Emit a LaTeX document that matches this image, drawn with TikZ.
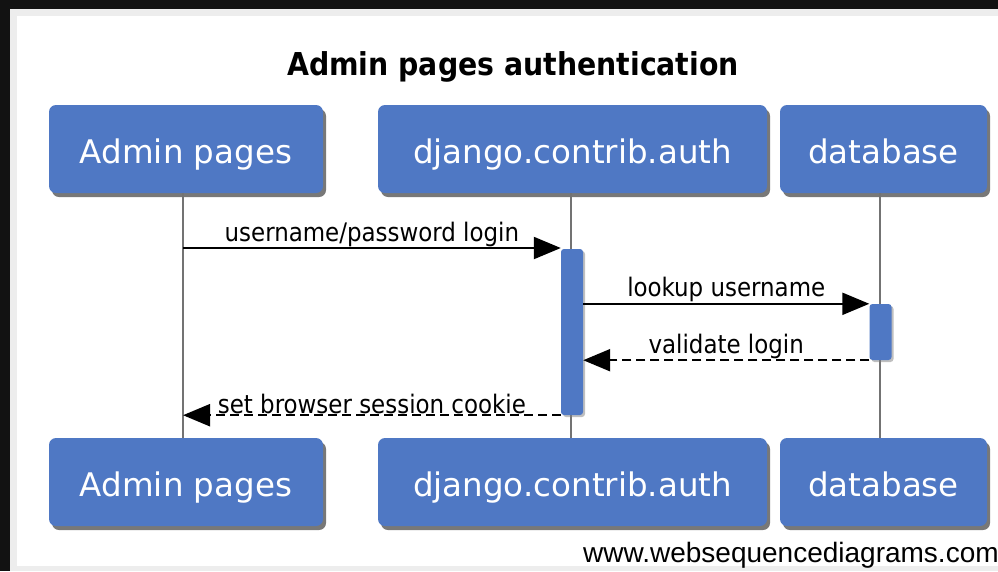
\documentclass[tikz,border=0pt]{standalone}
\usepackage{fontspec}
\setmainfont{DejaVu Sans}
\newfontfamily\condfont{DejaVu Sans Condensed}
\newfontfamily\footfont{Liberation Sans}
\usetikzlibrary{arrows.meta, shadows, calc}
\definecolor{boxblue}{HTML}{4F78C4}

\begin{document}
\begin{tikzpicture}[x=1pt, y=-1pt,
    actor/.style={rectangle, rounded corners=7pt, fill=boxblue, text=white,
        font=\fontsize{32.5}{38}\selectfont, minimum height=88pt, inner sep=0pt,
        text height=30pt, text depth=2pt,
        drop shadow={shadow xshift=3pt, shadow yshift=-4pt, opacity=0.75, fill=black!70}},
    activation/.style={rectangle, rounded corners=3pt, fill=boxblue, minimum width=22pt, inner sep=0pt,
        drop shadow={shadow xshift=2pt, shadow yshift=-2pt, opacity=0.5}},
    lifeline/.style={draw=black!55, line width=1.6pt},
    msg/.style={line width=2.2pt, -{Triangle[length=27pt,width=22pt]}},
    reply/.style={msg, dash pattern=on 9pt off 5pt},
    msglabel/.style={font=\condfont\fontsize{25.5}{30}\selectfont, inner sep=0.5pt}]
    % frame
    \fill[black!93] (0,0) rectangle (998,571);
    \fill[black!7] (10,9) rectangle (998,571);
    \fill[white] (17,16) rectangle (998,566);
    \useasboundingbox (0,0) rectangle (998,571);

    \node[font=\condfont\bfseries\fontsize{31.5}{36}\selectfont, anchor=base] (title) at (513,75) {Admin pages authentication};

    \node[actor, minimum width=274pt] (adminT) at (186,149) {Admin pages};
    \node[actor, minimum width=389pt] (authT) at (572.5,149) {django.contrib.auth};
    \node[actor, minimum width=207pt] (dbT) at (883.5,149) {database};

    \node[actor, minimum width=274pt] (adminB) at (186,482) {Admin pages};
    \node[actor, minimum width=389pt] (authB) at (572.5,482) {django.contrib.auth};
    \node[actor, minimum width=207pt] (dbB) at (883.5,482) {database};

    \draw[lifeline] ([xshift=-3pt]adminT.south) -- ([xshift=-3pt]adminB.north);
    \draw[lifeline] ([xshift=-1.5pt]authT.south) -- ([xshift=-1.5pt]authB.north);
    \draw[lifeline] ([xshift=-3.5pt]dbT.south) -- ([xshift=-3.5pt]dbB.north);

    \node[activation, minimum height=166pt] (act1) at (572,332) {};
    \node[activation, minimum height=56pt] (act2) at (880.5,332) {};

    \coordinate (login) at (183,248);
    \draw[msg] (login) -- (login -| act1.west)
        node[msglabel, midway, above] {username/password login};
    \draw[msg] (act1.east |- act2.north west) -- (act2.north west)
        node[msglabel, midway, above] {lookup username};
    \draw[reply] (act2.south west) -- (act1.east |- act2.south west)
        node[msglabel, midway, above] {validate login};
    \draw[reply] (act1.south west) -- (login |- act1.south west)
        node[msglabel, midway, above] {set browser session cookie};

    \node[font=\footfont\fontsize{28}{32}\selectfont, anchor=base west, inner sep=0pt] (site) at (583,562) {www.websequencediagrams.com};
\end{tikzpicture}
\end{document}
